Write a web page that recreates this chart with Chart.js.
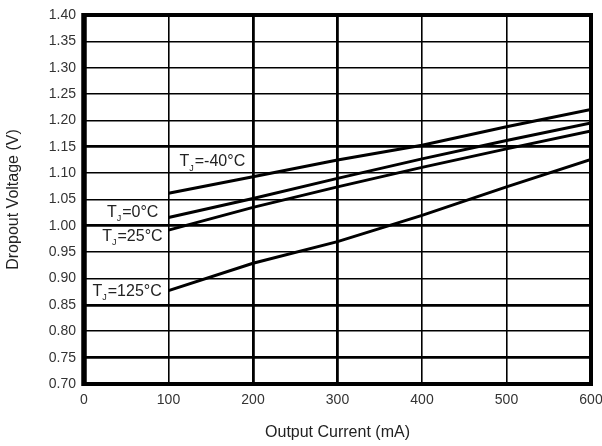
<!DOCTYPE html>
<html>
<head>
<meta charset="utf-8">
<script src="https://cdn.jsdelivr.net/npm/chart.js@4/dist/chart.umd.min.js"></script>
<style>
  html, body { margin: 0; padding: 0; background: #fff; }
  #wrap { width: 602px; height: 446px; position: relative; }
</style>
</head>
<body>
<div id="wrap"><canvas id="c"></canvas></div>
<script>
// ---- data ----
const currents = [100, 200, 300, 400, 500, 600];           // Output Current (mA)
const vTjMinus40 = [1.062, 1.093, 1.125, 1.153, 1.188, 1.221];
const vTj0       = [1.016, 1.052, 1.090, 1.127, 1.162, 1.195];
const vTj25      = [0.992, 1.035, 1.074, 1.111, 1.146, 1.180];
const vTj125     = [0.877, 0.929, 0.970, 1.020, 1.074, 1.126];

const seriesLabels = ["=-40°C", "=0°C", "=25°C", "=125°C"];
// label anchors in data units (x, y) and alignment
const labelX     = [113, 88, 93, 92];
const labelY     = [1.121, 1.026, 0.979, 0.875];
const labelAlign = ["left", "right", "right", "right"];

const xTicks = [0, 100, 200, 300, 400, 500, 600];
const yMin = 0.70, yMax = 1.40, yStep = 0.05;
const thickY = [1.15, 1.00, 0.85, 0.75];
const thickX = [200, 300];

function pts(vals) { return currents.map((x, i) => ({ x: x, y: vals[i] })); }
const allSeries = [vTjMinus40, vTj0, vTj25, vTj125];

const FONT = "'Liberation Sans', Arial, Helvetica, sans-serif";

const annot = {
  id: 'annot',
  afterDatasetsDraw(chart) {
    const ctx = chart.ctx, xs = chart.scales.x, ys = chart.scales.y, a = chart.chartArea;
    ctx.save();
    // frame
    ctx.strokeStyle = '#000';
    ctx.lineWidth = 4;
    ctx.strokeRect(a.left, a.top, a.right - a.left, a.bottom - a.top);
    ctx.lineWidth = 5.5;
    ctx.beginPath(); ctx.moveTo(a.left, a.top - 2); ctx.lineTo(a.left, a.bottom + 2); ctx.stroke();
    // series labels: T with subscript J, then the rest
    ctx.fillStyle = '#222';
    ctx.textBaseline = 'middle';
    seriesLabels.forEach((txt, i) => {
      const big = "16px " + FONT, small = "9px " + FONT;
      ctx.font = big;
      const wT = ctx.measureText("T").width;
      const wRest = ctx.measureText(txt).width;
      ctx.font = small;
      const wJ = ctx.measureText("J").width + 1;
      const total = wT + wJ + wRest;
      let x = xs.getPixelForValue(labelX[i]);
      const y = ys.getPixelForValue(labelY[i]);
      if (labelAlign[i] === 'right') x -= total;
      ctx.textAlign = 'left';
      ctx.font = big; ctx.fillText("T", x, y);
      ctx.font = small; ctx.fillText("J", x + wT, y + 6);
      ctx.font = big; ctx.fillText(txt, x + wT + wJ, y);
    });
    ctx.restore();
  }
};

new Chart(document.getElementById('c'), {
  type: 'line',
  data: {
    datasets: allSeries.map((v, i) => ({
      label: 'TJ' + seriesLabels[i],
      data: pts(v),
      borderColor: '#000',
      borderWidth: 3,
      pointRadius: 0,
      tension: 0,
      fill: false
    }))
  },
  options: {
    responsive: true,
    maintainAspectRatio: false,
    animation: false,
    devicePixelRatio: 1,
    layout: { padding: { top: 15, right: 11, left: 0, bottom: 0 } },
    plugins: { legend: { display: false }, tooltip: { enabled: false } },
    scales: {
      x: {
        type: 'linear',
        min: 0, max: 600,
        afterBuildTicks(s) { s.ticks = xTicks.map(v => ({ value: v })); },
        afterFit(s) { s.height = 62; s.paddingLeft = 0; s.paddingRight = 0; },
        grid: {
          color: '#000',
          drawTicks: false,
          lineWidth: c => thickX.includes(c.tick.value) ? 2.8 : 1.6
        },
        border: { display: false },
        ticks: { color: '#333', padding: 8, font: { family: FONT, size: 14 }, maxRotation: 0 },
        title: { display: true, text: 'Output Current (mA)', color: '#222', font: { family: FONT, size: 16 }, padding: { top: 4, bottom: 4 } }
      },
      y: {
        type: 'linear',
        min: yMin, max: yMax,
        ticks: {
          stepSize: yStep, color: '#333', padding: 8,
          font: { family: FONT, size: 14 },
          callback: v => Number(v).toFixed(2)
        },
        afterFit(s) { s.width = 84; s.paddingTop = 0; s.paddingBottom = 0; },
        grid: {
          color: '#000',
          drawTicks: false,
          lineWidth: c => thickY.some(t => Math.abs(t - c.tick.value) < 1e-6) ? 2.8 : 1.6
        },
        border: { display: false },
        title: { display: true, text: 'Dropout Voltage (V)', color: '#222', font: { family: FONT, size: 16 }, padding: { top: 4, bottom: 4 } }
      }
    }
  },
  plugins: [annot]
});
</script>
</body>
</html>
